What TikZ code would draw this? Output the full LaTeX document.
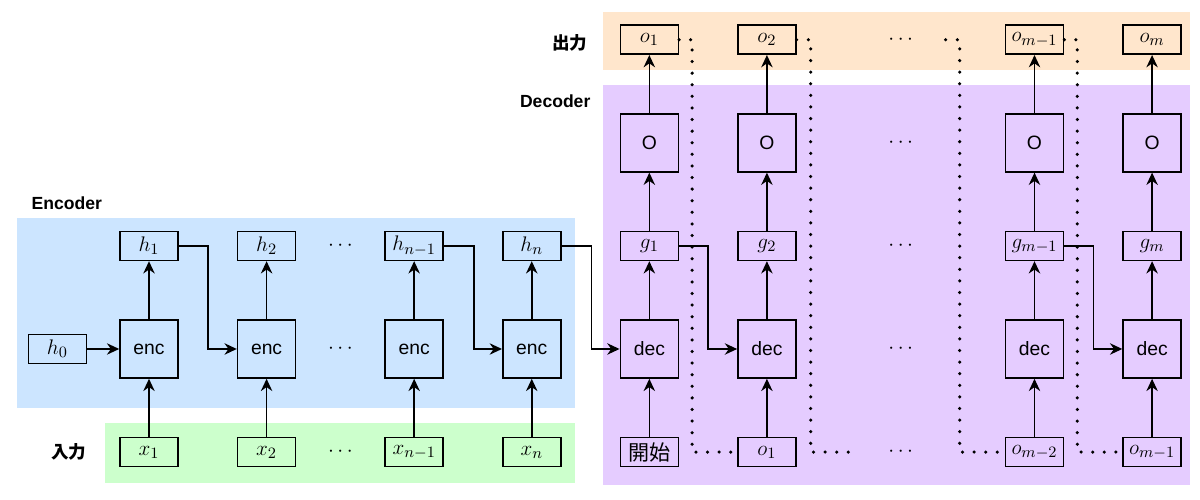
\documentclass[tikz,border=0pt]{standalone}
\usepackage{fontspec}
\setsansfont{Liberation Sans}
\newfontfamily\jpfont{Noto Sans CJK JP}
\usetikzlibrary{positioning,arrows.meta,calc}

\definecolor{encbg}{RGB}{204,229,255}
\definecolor{inbg}{RGB}{204,255,204}
\definecolor{decbg}{RGB}{229,204,255}
\definecolor{outbg}{RGB}{255,230,204}

\begin{document}
\begin{tikzpicture}[
  >={Stealth[length=7pt,width=6.5pt]},
  node distance=1.16cm,
  line width=0.9pt,
  cell/.style={draw,minimum size=1.16cm,font=\sffamily\fontsize{11}{13}\selectfont},
  var/.style={draw,minimum width=1.16cm,minimum height=0.58cm,inner sep=0pt,font=\fontsize{13}{15}\selectfont},
  skip/.style={font=\fontsize{13}{15}\selectfont},
  area/.style={font=\sffamily\bfseries},
  fb/.style={line width=2pt,line cap=round,dash pattern=on 0pt off 6.6pt}
]
  \useasboundingbox (0,0) rectangle (24,10);

  % backgrounds
  \fill[encbg] (0.34,1.84) rectangle (11.5,5.64);
  \fill[inbg] (2.1,0.34) rectangle (11.5,1.54);
  \fill[decbg] (12.06,0.3) rectangle (23.8,8.3);
  \fill[outbg] (12.06,8.6) rectangle (23.8,9.76);

  \node[area,anchor=west] (enclabel) at (0.5,5.94) {Encoder};
  \node[area,anchor=east] (declabel) at (11.94,7.98) {Decoder};
  \node[area,anchor=east,font=\jpfont\bfseries] (inlabel) at (1.86,0.96) {入力};
  \node[area,anchor=east,font=\jpfont\bfseries] (outlabel) at (11.88,9.14) {出力};

  % encoder
  \node[cell] (enc1) at (2.98,3.02) {enc};
  \node[cell,right=of enc1] (enc2) {enc};
  \node[cell,right=1.76cm of enc2] (encn1) {enc};
  \node[cell,right=of encn1] (encn) {enc};
  \node[var,left=0.64cm of enc1] (h0) {$h_0$};

  \node[var,above=of enc1] (h1) {$h_1$};
  \node[var,above=of enc2] (h2) {$h_2$};
  \node[var,above=of encn1] (hn1) {$h_{n-1}$};
  \node[var,above=of encn] (hn) {$h_n$};

  \node[var,below=of enc1] (x1) {$x_1$};
  \node[var,below=of enc2] (x2) {$x_2$};
  \node[var,below=of encn1] (xn1) {$x_{n-1}$};
  \node[var,below=of encn] (xn) {$x_n$};

  \node[skip] (hdots) at ($(h2)!0.5!(hn1)$) {$\cdots$};
  \node[skip] (encdots) at ($(enc2)!0.5!(encn1)$) {$\cdots$};
  \node[skip] (xdots) at ($(x2)!0.5!(xn1)$) {$\cdots$};

  % decoder
  \node[cell,right=of encn] (dec1) {dec};
  \node[cell,right=of dec1] (dec2) {dec};
  \node[cell,right=4.16cm of dec2] (decm1) {dec};
  \node[cell,right=of decm1] (decm) {dec};

  \node[var,above=of dec1] (g1) {$g_1$};
  \node[var,above=of dec2] (g2) {$g_2$};
  \node[var,above=of decm1] (gm1) {$g_{m-1}$};
  \node[var,above=of decm] (gm) {$g_m$};

  \node[cell,above=of g1] (out1) {O};
  \node[cell,above=of g2] (out2) {O};
  \node[cell,above=of gm1] (outm1) {O};
  \node[cell,above=of gm] (outm) {O};

  \node[var,above=of out1] (o1) {$o_1$};
  \node[var,above=of out2] (o2) {$o_2$};
  \node[var,above=of outm1] (om1) {$o_{m-1}$};
  \node[var,above=of outm] (om) {$o_m$};

  \node[var,below=of dec1,font=\large\jpfont] (start) {開始};
  \node[var,below=of dec2] (p1) {$o_1$};
  \node[var,below=of decm1] (pm2) {$o_{m-2}$};
  \node[var,below=of decm] (pm1) {$o_{m-1}$};

  \node[skip] (odots) at ($(o2)!0.5!(om1)$) {$\cdots$};
  \node[skip] (outdots) at ($(out2)!0.5!(outm1)$) {$\cdots$};
  \node[skip] (gdots) at ($(g2)!0.5!(gm1)$) {$\cdots$};
  \node[skip] (decdots) at ($(dec2)!0.5!(decm1)$) {$\cdots$};
  \node[skip] (pdots) at ($(p1)!0.5!(pm2)$) {$\cdots$};

  \coordinate (cutA) at ([xshift=-0.9cm]pdots.center);
  \coordinate (cutB) at ([xshift=0.9cm]odots.center);

  \path[->]
    (h0) edge (enc1)
    (x1) edge (enc1) (enc1) edge (h1)
    (x2) edge (enc2) (enc2) edge (h2)
    (xn1) edge (encn1) (encn1) edge (hn1)
    (xn) edge (encn) (encn) edge (hn)
    (start) edge (dec1) (dec1) edge (g1) (g1) edge (out1) (out1) edge (o1)
    (p1) edge (dec2) (dec2) edge (g2) (g2) edge (out2) (out2) edge (o2)
    (pm2) edge (decm1) (decm1) edge (gm1) (gm1) edge (outm1) (outm1) edge (om1)
    (pm1) edge (decm) (decm) edge (gm) (gm) edge (outm) (outm) edge (om);

  \draw[->] (h1.east) -- ++(0.58,0) |- (enc2);
  \draw[->] (hn1.east) -- ++(0.6,0) |- (encn);
  \draw[->] (hn.east) -- ++(0.6,0) |- (dec1);
  \draw[->] (g1.east) -- ++(0.58,0) |- (dec2);
  \draw[->] (gm1.east) -- ++(0.58,0) |- (decm);

  % outputs fed back
  \draw[fb] (o1.east) -| ([xshift=-0.9cm]p1.west) -- (p1.west);
  \draw[fb] (o2.east) -- ++(0.28,0) |- (cutA);
  \draw[fb] (cutB) -| ([xshift=-0.9cm]pm2.west) -- (pm2.west);
  \draw[fb] (om1.east) -| ([xshift=-0.9cm]pm1.west) -- (pm1.west);
\end{tikzpicture}
\end{document}
